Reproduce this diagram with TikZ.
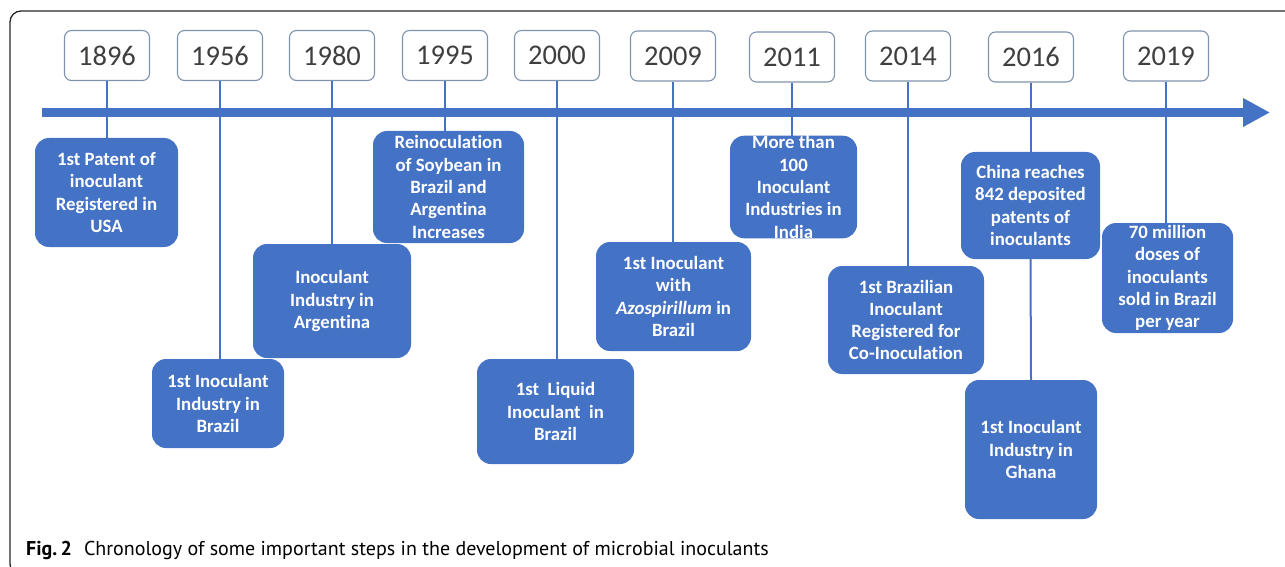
\documentclass[tikz,border=0pt]{standalone}
\usepackage{fontspec}
\setmainfont[Ligatures={NoCommon,NoRare}]{Carlito}
\newfontfamily\capfont{PT Sans}
\usetikzlibrary{arrows.meta}
\definecolor{tlblue}{HTML}{4472C4}
\definecolor{yrborder}{HTML}{8093AE}
\definecolor{yrtext}{HTML}{3F3F3F}
\tikzset{
  yearbox/.style={draw=yrborder, line width=1.1pt, fill=white, rounded corners=7pt,
    minimum width=85pt, minimum height=50pt, inner sep=0pt, text=yrtext,
    font=\fontsize{28.5}{30}\selectfont},
  eventbox/.style={fill=tlblue, rounded corners=14pt, inner sep=0pt, text=white, align=center,
    font=\bfseries\fontsize{18.8}{22.3}\selectfont},
  conn/.style={draw=tlblue, line width=2pt},
  timeline/.style={draw=tlblue, line width=9pt, -{Triangle[length=27pt,width=27pt]}}
}
\begin{document}
\begin{tikzpicture}[x=1pt,y=-1pt]
\useasboundingbox (0,0) rectangle (1285,567);
\clip (0,0) rectangle (1285,567);
\draw[line width=1.3pt, black!85, rounded corners=11pt] (10,11) rectangle (1310,575);

% timeline arrow
\coordinate (tlstart) at (42,112.5);
\coordinate (tlend) at (1270,112.5);
\draw[timeline] (tlstart) -- (tlend);

% year boxes
\node[yearbox] (y1896) at (107,55.5) {1896};
\node[yearbox] (y1956) at (220,55.5) {1956};
\node[yearbox] (y1980) at (332,55.5) {1980};
\node[yearbox] (y1995) at (445,55.5) {1995};
\node[yearbox] (y2000) at (557,55.5) {2000};
\node[yearbox] (y2009) at (673,56) {2009};
\node[yearbox] (y2011) at (792,57) {2011};
\node[yearbox] (y2014) at (908,56) {2014};
\node[yearbox] (y2016) at (1031,57) {2016};
\node[yearbox] (y2019) at (1166,56) {2019};

% event boxes
\node[eventbox, minimum width=143pt, minimum height=109pt] (e1896) at (106.5,192.5)
  {1st Patent of\\inoculant\\Registered in\\USA};
\node[eventbox, minimum width=132pt, minimum height=89pt] (e1956) at (218,403.5)
  {1st Inoculant\\Industry in\\Brazil};
\node[eventbox, minimum width=158pt, minimum height=114pt] (e1980) at (332,301)
  {Inoculant\\Industry in\\Argentina};
\node[eventbox, minimum width=151pt, minimum height=112pt] (e1995) at (448.5,187)
  {Reinoculation\\of Soybean in\\Brazil and\\Argentina\\Increases};
\node[eventbox, minimum width=157pt, minimum height=105pt] (e2000) at (555.5,411.5)
  {1st~ Liquid\\Inoculant~ in\\Brazil};
\node[eventbox, minimum width=155pt, minimum height=109pt] (e2009) at (673.5,296.5)
  {1st Inoculant\\with\\\textit{Azospirillum} in\\Brazil};
\node[eventbox, minimum width=127pt, minimum height=102pt] (e2011) at (793.5,187)
  {More than\\100\\Inoculant\\Industries in\\India};
\node[eventbox, minimum width=156pt, minimum height=108pt] (e2014) at (906,320)
  {1st Brazilian\\Inoculant\\Registered for\\Co-Inoculation};
\node[eventbox, minimum width=139pt, minimum height=107pt] (e2016a) at (1030.5,205.5)
  {China reaches\\842 deposited\\patents of\\inoculants};
\node[eventbox, minimum width=132pt, minimum height=139pt] (e2016b) at (1031,449.5)
  {1st Inoculant\\Industry in\\Ghana};
\node[eventbox, minimum width=131pt, minimum height=110pt] (e2019) at (1167.5,278)
  {70 million\\doses of\\inoculants\\sold in Brazil\\per year};

% connectors
\draw[conn] (y1896.south) -- (y1896.south |- e1896.north);
\draw[conn] (y1956.south) -- (y1956.south |- e1956.north);
\draw[conn] (y1980.south) -- (y1980.south |- e1980.north);
\draw[conn] (y1995.south) -- (y1995.south |- e1995.north);
\draw[conn] (y2000.south) -- (y2000.south |- e2000.north);
\draw[conn] (y2009.south) -- (y2009.south |- e2009.north);
\draw[conn] (y2011.south) -- (y2011.south |- e2011.north);
\draw[conn] (y2014.south) -- (y2014.south |- e2014.north);
\draw[conn] (y2016.south) -- (y2016.south |- e2016a.north);
\draw[conn] (e2016a.south) -- (e2016b.north);
\draw[conn] (y2019.south) -- (y2019.south |- e2019.north);

% caption
\node[anchor=base west, inner sep=0pt, font=\capfont\fontsize{20}{24}\selectfont] (caption) at (26,555)
  {\textbf{Fig.\,2}\hspace{12pt}Chronology of some important steps in the development of microbial inoculants};
\end{tikzpicture}
\end{document}
